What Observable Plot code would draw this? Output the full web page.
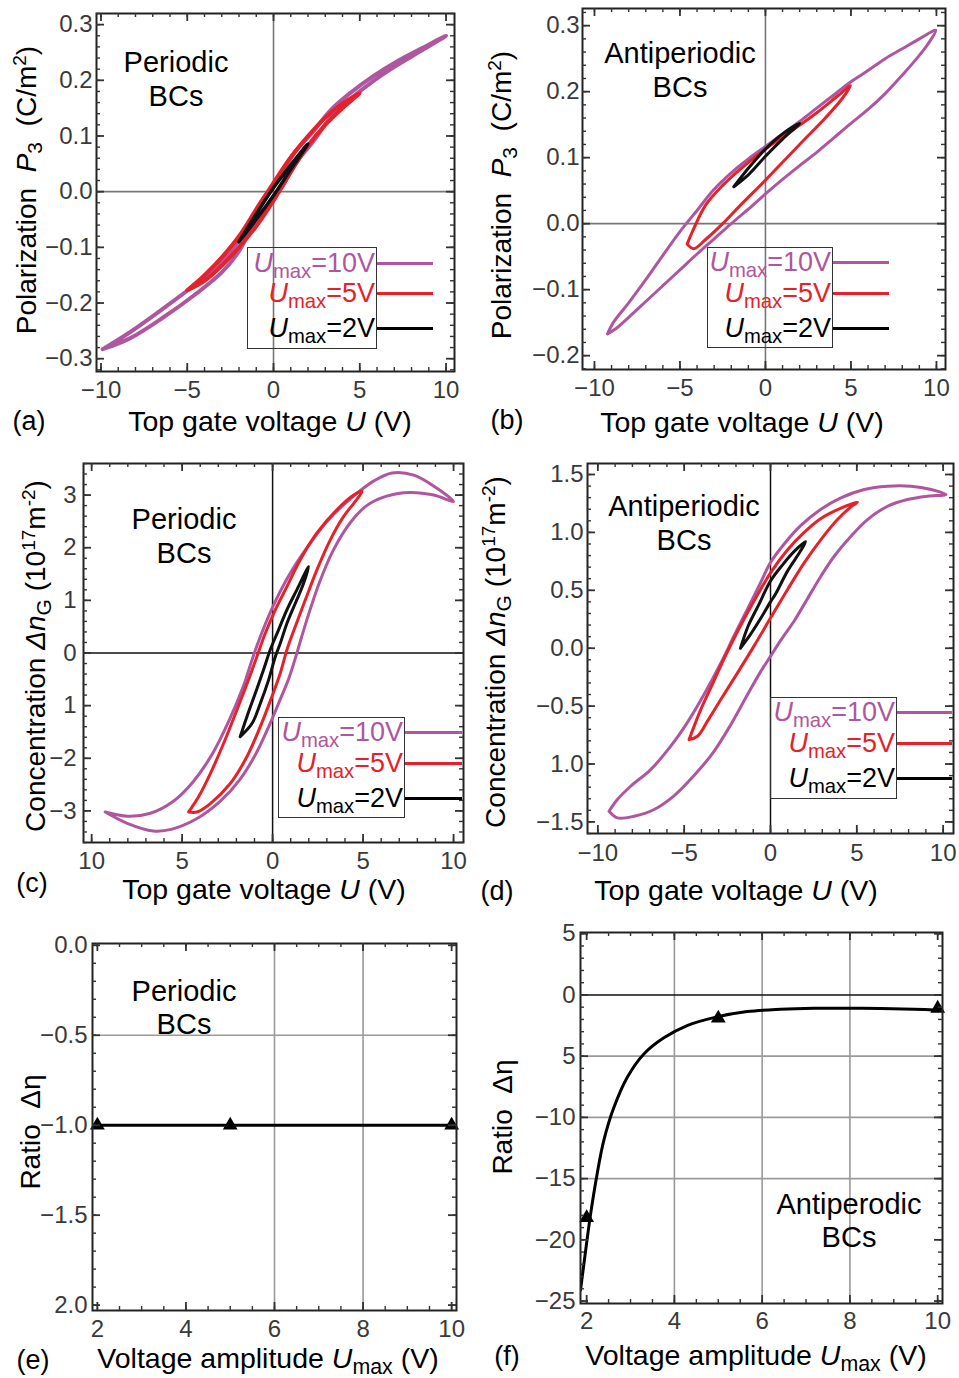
<!DOCTYPE html>
<html><head><meta charset="utf-8">
<script src="https://cdn.jsdelivr.net/npm/d3@7"></script>
<script src="https://cdn.jsdelivr.net/npm/@observablehq/plot@0.6"></script>
<style>
html,body{margin:0;padding:0;background:#fff;}
#fig{position:relative;width:959px;height:1378px;background:#fff;font-family:"Liberation Sans",Arial,sans-serif;overflow:hidden;}
#fig sub{font-size:0.75em;position:relative;top:0.28em;vertical-align:baseline;}
#fig sup{font-size:0.68em;position:relative;top:-0.5em;vertical-align:baseline;}
#fig i{font-style:italic;}
</style></head>
<body><div id="fig"></div>
<script>
// ---------- DATA ----------
const PURPLE = "#b0569e", RED = "#e62129", BLACK = "#111111";
const legendNames = ["10V", "5V", "2V"];

// (a) Periodic BCs, polarization P3 (C/m^2) vs U (V): closed loops [U, P3]
const aLoop10 = [[-9.9,-0.283],[-8.3,-0.252],[-6.4,-0.21],[-4.6,-0.168],[-3,-0.125],[-2,-0.088],[-1.2,-0.042],[-0.6,-0.012],[0,0.012],[0.6,0.04],[1.3,0.073],[2.3,0.108],[3.3,0.146],[4.4,0.176],[5.8,0.208],[7.1,0.233],[8.5,0.256],[10,0.28],
  [8.5,0.252],[7.1,0.226],[5.8,0.199],[4.4,0.165],[3.3,0.133],[2.3,0.09],[1.3,0.052],[0.6,0.014],[0,-0.012],[-0.6,-0.034],[-1.2,-0.06],[-2,-0.107],[-3,-0.145],[-4.6,-0.186],[-6.4,-0.226],[-8.3,-0.263],[-9.9,-0.283]];
const aLoop5 = [[-5,-0.177],[-4,-0.15],[-3,-0.118],[-2,-0.08],[-1,-0.032],[0,0.016],[1,0.062],[2,0.1],[3,0.133],[4,0.158],[5,0.177],
  [4,0.15],[3,0.12],[2,0.083],[1,0.035],[0,-0.016],[-1,-0.062],[-2,-0.1],[-3,-0.133],[-4,-0.16],[-5,-0.177]];
const aLoop2 = [[-2,-0.09],[-1,-0.04],[0,0.007],[1,0.048],[2,0.086],[1,0.04],[0,-0.007],[-1,-0.05],[-2,-0.09]];

// (b) Antiperiodic BCs, polarization
const bLoop10 = [[-9.24,-0.167],[-8.9,-0.15],[-8,-0.12],[-7,-0.085],[-6,-0.048],[-5,-0.012],[-4,0.02],[-3,0.052],[-2,0.077],[-1,0.098],[0,0.117],[1,0.136],[2,0.155],[3,0.175],[4,0.195],[5,0.215],[6,0.232],[7,0.25],[8,0.265],[9,0.28],[9.96,0.293],
  [9.5,0.272],[9,0.255],[8,0.225],[7,0.197],[6,0.173],[5,0.152],[4,0.13],[3,0.108],[2,0.088],[1,0.067],[0,0.045],[-1,0.022],[-2,0.0],[-3,-0.023],[-4,-0.046],[-5,-0.07],[-6,-0.094],[-7,-0.118],[-8,-0.142],[-8.8,-0.16],[-9.24,-0.167]];
const bLoop5 = [[-4.58,-0.031],[-4.2,-0.008],[-3.5,0.028],[-2.5,0.058],[-1.5,0.082],[0,0.113],[1.5,0.14],[3,0.168],[4.2,0.193],[4.97,0.209],
  [4.5,0.19],[3.5,0.16],[2,0.12],[0,0.066],[-1.5,0.027],[-2.5,0.0],[-3.5,-0.024],[-4.2,-0.038],[-4.58,-0.031]];
const bLoop2 = [[-1.85,0.056],[-1,0.084],[0,0.113],[1,0.136],[2,0.152],[1,0.128],[0,0.102],[-1,0.074],[-1.85,0.056]];

// (c) Periodic BCs, concentration Δn_G (10^17 m^-2)
const cLoop10 = [[-9.25,-3.02],[-8.0,-3.1],[-6.8,-3.05],[-5.5,-2.82],[-4.4,-2.45],[-3.3,-1.9],[-2.4,-1.28],[-1.6,-0.62],[-1.25,-0.25],[-0.85,0.15],[-0.4,0.55],[0.15,0.98],[0.95,1.5],[1.9,2.0],[3.0,2.5],[4.3,2.93],[5.6,3.27],[6.6,3.42],[7.8,3.38],[9.0,3.15],[10,2.88],
  [8.9,3.0],[7.6,3.05],[6.3,2.98],[5.2,2.8],[4.3,2.48],[3.35,1.95],[2.6,1.35],[2.05,0.8],[1.6,0.3],[1.3,-0.05],[0.9,-0.48],[0.4,-0.9],[-0.15,-1.35],[-0.9,-1.9],[-1.8,-2.4],[-2.9,-2.82],[-4.2,-3.15],[-5.6,-3.35],[-6.6,-3.38],[-8.0,-3.24],[-9.25,-3.02]];
const cLoop5 = [[-4.64,-3.02],[-4.09,-2.73],[-3.44,-2.29],[-2.71,-1.72],[-1.97,-1.08],[-1.33,-0.51],[-0.87,-0.07],[-0.41,0.37],[0.15,0.82],[0.79,1.26],[1.53,1.77],[2.45,2.28],[3.55,2.72],[4.48,3.0],[4.94,3.07],
  [4.57,2.88],[3.92,2.59],[3.19,2.15],[2.45,1.58],[1.81,1.01],[1.25,0.5],[0.79,0.06],[0.42,-0.39],[-0.04,-0.83],[-0.68,-1.4],[-1.42,-1.97],[-2.34,-2.48],[-3.44,-2.86],[-4.18,-3.02],[-4.64,-3.02]];
const cLoop2 = [[-1.79,-1.59],[-1.42,-1.21],[-0.96,-0.77],[-0.5,-0.32],[-0.13,0.06],[0.33,0.44],[0.79,0.82],[1.34,1.2],[1.99,1.64],
  [1.71,1.32],[1.25,0.94],[0.79,0.56],[0.42,0.18],[0.15,-0.07],[-0.22,-0.51],[-0.68,-0.96],[-1.14,-1.34],[-1.79,-1.59]];

// (d) Antiperiodic BCs, concentration
const dLoop10 = [[-9.35,-1.408],[-8.87,-1.307],[-8.1,-1.192],[-6.94,-1.048],[-5.78,-0.846],[-4.81,-0.64],[-3.85,-0.4],[-2.88,-0.13],[-2.1,0.11],[-1.33,0.34],[-0.56,0.57],[0,0.74],[0.79,0.9],[1.76,1.06],[2.92,1.2],[4.08,1.298],[5.43,1.37],[6.78,1.399],[8.14,1.399],[9.3,1.37],[10.16,1.327],
  [9.1,1.313],[7.94,1.284],[6.78,1.226],[5.62,1.111],[4.66,0.967],[3.69,0.794],[2.92,0.622],[2.15,0.43],[1.37,0.235],[0.6,0.07],[0,-0.07],[-0.56,-0.2],[-1.33,-0.4],[-2.3,-0.66],[-3.27,-0.89],[-4.43,-1.1],[-5.59,-1.275],[-6.74,-1.393],[-7.9,-1.451],[-8.87,-1.465],[-9.35,-1.408]];
const dLoop5 = [[-4.715,-0.789],[-4.46,-0.688],[-4.04,-0.53],[-3.36,-0.31],[-2.59,-0.06],[-1.82,0.17],[-0.95,0.41],[0,0.65],[0.99,0.85],[1.95,1.0],[2.92,1.12],[4.08,1.21],[5.04,1.261],
  [4.66,1.22],[3.88,1.111],[2.92,0.938],[1.95,0.737],[0.99,0.507],[0,0.26],[-0.95,0.02],[-1.91,-0.213],[-2.88,-0.443],[-3.65,-0.63],[-4.23,-0.76],[-4.715,-0.789]];
const dLoop2 = [[-1.74,0.0],[-1.3,0.19],[-0.7,0.37],[0,0.58],[0.7,0.72],[1.4,0.84],[2.03,0.92],
  [1.7,0.83],[1.0,0.67],[0.3,0.47],[0,0.4],[-0.6,0.25],[-1.2,0.11],[-1.74,0.0]];

// (e) Periodic BCs ratio
const eUmax = [2, 5, 10];
const eRatio = [-1, -1, -1];
// (f) Antiperiodic BCs ratio
const fUmax = [2, 5, 10];
const fRatio = [-18.2, -1.9, -1.1];
const fFitUmax  = [1.86, 1.98, 2.09, 2.24, 2.39, 2.62, 2.93, 3.31, 3.76, 4.29, 4.9, 5.66, 6.42, 7.18, 7.94, 8.7, 9.46, 10.06];
const fFitRatio = [-24.1, -20.8, -17.9, -14.6, -11.9, -9.2, -6.7, -4.8, -3.5, -2.5, -1.85, -1.36, -1.17, -1.09, -1.09, -1.11, -1.17, -1.25];

// tick values and labels
const uTicks = [-10, -5, 0, 5, 10];
const uLabels = ["−10", "−5", "0", "5", "10"];
const cULabels = ["10", "5", "0", "5", "10"];
const aPTicks = [-0.3, -0.2, -0.1, 0, 0.1, 0.2, 0.3];
const aPLabels = ["−0.3", "−0.2", "−0.1", "0.0", "0.1", "0.2", "0.3"];
const bPTicks = [-0.2, -0.1, 0, 0.1, 0.2, 0.3];
const bPLabels = ["−0.2", "−0.1", "0.0", "0.1", "0.2", "0.3"];
const cNTicks = [-3, -2, -1, 0, 1, 2, 3];
const cNLabels = ["−3", "−2", "1", "0", "1", "2", "3"];
const dNTicks = [-1.5, -1, -0.5, 0, 0.5, 1, 1.5];
const dNLabels = ["−1.5", "1.0", "−0.5", "0.0", "0.5", "1.0", "1.5"];
const umaxTicks = [2, 4, 6, 8, 10];
const umaxLabels = ["2", "4", "6", "8", "10"];
const eRTicks = [-2, -1.5, -1, -0.5, 0];
const eRLabels = ["2.0", "−1.5", "−1.0", "−0.5", "0.0"];
const fRTicks = [-25, -20, -15, -10, -5, 0, 5];
const fRLabels = ["−25", "−20", "−15", "−10", "5", "0", "5"];
const eGridX = [6, 8], eGridY = [-0.5];
const fGridX = [4, 6, 8], fGridY = [-15, -10, -5];

// ---------- DRAW ----------
const fig = document.getElementById("fig");
const FONT = "Liberation Sans, Arial, sans-serif";
const TICKFONT = 24;

function loop(data, color, w = 3) {
  return Plot.line(data, {x: d => d[0], y: d => d[1], stroke: color, strokeWidth: w, curve: "catmull-rom", clip: true});
}

function panel(cfg) {
  const [sx, sy, sw, sh] = cfg.svg;
  const [fl, ft, fr, fb] = cfg.frame;
  const fw = fr - fl, fh = fb - ft;
  const xLab = new Map(cfg.xTicks.map((t, i) => [t, cfg.xLabels[i]]));
  const yLab = new Map(cfg.yTicks.map((t, i) => [t, cfg.yLabels[i]]));
  const inX = v => v >= cfg.xDomain[0] - 1e-9 && v <= cfg.xDomain[1] + 1e-9;
  const inY = v => v >= Math.min(...cfg.yDomain) - 1e-9 && v <= Math.max(...cfg.yDomain) + 1e-9;
  const xMinor = d3.range(cfg.xMinor[0], cfg.xMinor[1] + 1e-9, cfg.xMinor[2]).map(v => +v.toFixed(4)).filter(inX);
  const yMinor = d3.range(cfg.yMinor[0], cfg.yMinor[1] + 1e-9, cfg.yMinor[2]).map(v => +v.toFixed(4)).filter(inY);
  const xMaj = cfg.xTicks.filter(inX), yMaj = cfg.yTicks.filter(inY);
  const tk = {stroke: "#333", strokeWidth: 1.4};
  const ticks = [
    Plot.ruleX(xMinor, {x: d => d, insetTop: fh - 4, ...tk}),
    Plot.ruleX(xMinor, {x: d => d, insetBottom: fh - 4, ...tk}),
    Plot.ruleY(yMinor, {y: d => d, insetRight: fw - 4, ...tk}),
    Plot.ruleY(yMinor, {y: d => d, insetLeft: fw - 4, ...tk}),
    Plot.ruleX(xMaj, {x: d => d, insetTop: fh - 8, ...tk, strokeWidth: 1.8}),
    Plot.ruleX(xMaj, {x: d => d, insetBottom: fh - 8, ...tk, strokeWidth: 1.8}),
    Plot.ruleY(yMaj, {y: d => d, insetRight: fw - 8, ...tk, strokeWidth: 1.8}),
    Plot.ruleY(yMaj, {y: d => d, insetLeft: fw - 8, ...tk, strokeWidth: 1.8})
  ];
  const svg = Plot.plot({
    width: sw, height: sh,
    marginLeft: fl - sx, marginTop: ft - sy, marginRight: sx + sw - fr, marginBottom: sy + sh - fb,
    x: {domain: cfg.xDomain}, y: {domain: cfg.yDomain},
    style: {fontFamily: FONT, fontSize: TICKFONT + "px", background: "transparent", overflow: "visible", color: "#333"},
    marks: [
      ...cfg.marks,
      Plot.frame({stroke: "#222", strokeWidth: 2}),
      ...ticks,
      Plot.axisX(cfg.xTicks, {tickSize: 0, tickPadding: cfg.xPad, tickFormat: d => xLab.get(d), fontSize: TICKFONT, fill: "#3a3a3a", label: null}),
      Plot.axisY(cfg.yTicks, {tickSize: 0, tickPadding: cfg.yPad, tickFormat: d => yLab.get(d), fontSize: TICKFONT, fill: "#3a3a3a", label: null})
    ]
  });
  svg.style.position = "absolute";
  svg.style.left = sx + "px";
  svg.style.top = sy + "px";
  fig.appendChild(svg);
}

function txt(html, x, y, o = {}) {
  const d = document.createElement("div");
  d.innerHTML = html;
  d.style.cssText = `position:absolute;left:${x}px;top:${y}px;white-space:nowrap;line-height:${o.lh || 1};` +
    `font-size:${o.size || 28}px;color:${o.color || "#000"};text-align:center;` +
    `transform:${o.tf || "translate(-50%,-50%)"};`;
  fig.appendChild(d);
}

function legend(box, rowsY, lineEnd) {
  const [x0, y0, x1, y1] = box;
  const b = document.createElement("div");
  b.style.cssText = `position:absolute;left:${x0}px;top:${y0}px;width:${x1 - x0}px;height:${y1 - y0}px;border:1.5px solid #333;box-sizing:border-box;`;
  fig.appendChild(b);
  const colors = [PURPLE, RED, "#000"];
  legendNames.forEach((n, i) => {
    txt(`<i>U</i><sub>max</sub>=${n}`, x1 - 2, rowsY[i], {size: 27, color: colors[i], tf: "translate(-100%,-50%)"});
    const l = document.createElement("div");
    l.style.cssText = `position:absolute;left:${x1}px;top:${rowsY[i] - 1.5}px;width:${lineEnd - x1}px;height:3.2px;background:${colors[i]};`;
    fig.appendChild(l);
  });
}

const zeroGray = {stroke: "#777", strokeWidth: 1.6};
const zeroBlack = {stroke: "#111", strokeWidth: 1.5};
const grid = {stroke: "#9a9a9a", strokeWidth: 1.6};

// (a)
panel({svg: [0, 0, 480, 440], frame: [96, 13, 454, 371], xDomain: [-10.26, 10.49], yDomain: [-0.323, 0.32],
  xTicks: uTicks, xLabels: uLabels, yTicks: aPTicks, yLabels: aPLabels, xMinor: [-10, 10, 1], yMinor: [-0.32, 0.32, 0.02], xPad: 9, yPad: 4,
  marks: [Plot.ruleX([0], zeroGray), Plot.ruleY([0], zeroGray), loop(aLoop10, PURPLE, 4), loop(aLoop5, RED, 4), loop(aLoop2, BLACK, 3.5)]});
// (b)
panel({svg: [480, 0, 479, 440], frame: [582, 8, 945, 369], xDomain: [-10.7, 10.53], yDomain: [-0.221, 0.326],
  xTicks: uTicks, xLabels: uLabels, yTicks: bPTicks, yLabels: bPLabels, xMinor: [-10, 10, 1], yMinor: [-0.22, 0.32, 0.02], xPad: 9, yPad: 3,
  marks: [Plot.ruleX([0], zeroGray), Plot.ruleY([0], zeroGray), loop(bLoop10, PURPLE), loop(bLoop5, RED), loop(bLoop2, BLACK)]});
// (c)
panel({svg: [0, 445, 480, 455], frame: [83, 463, 463, 842], xDomain: [-10.45, 10.55], yDomain: [-3.6, 3.6],
  xTicks: uTicks, xLabels: cULabels, yTicks: cNTicks, yLabels: cNLabels, xMinor: [-10, 10, 1], yMinor: [-3.6, 3.6, 0.2], xPad: 9.5, yPad: 7,
  marks: [Plot.ruleX([0], zeroBlack), Plot.ruleY([0], zeroBlack), loop(cLoop10, PURPLE), loop(cLoop5, RED), loop(cLoop2, BLACK)]});
// (d)
panel({svg: [480, 445, 479, 455], frame: [587, 463, 953, 833], xDomain: [-10.6, 10.6], yDomain: [-1.6, 1.595],
  xTicks: uTicks, xLabels: uLabels, yTicks: dNTicks, yLabels: dNLabels, xMinor: [-10, 10, 1], yMinor: [-1.6, 1.6, 0.1], xPad: 10.5, yPad: 4,
  marks: [Plot.ruleX([0], zeroBlack), loop(dLoop10, PURPLE), loop(dLoop5, RED), loop(dLoop2, BLACK)]});
// (e)
panel({svg: [0, 920, 480, 458], frame: [92, 943, 456, 1310], xDomain: [1.89, 10.11], yDomain: [-2.03, 0.01],
  xTicks: umaxTicks, xLabels: umaxLabels, yTicks: eRTicks, yLabels: eRLabels, xMinor: [2, 10, 0.5], yMinor: [-2, 0, 0.1], xPad: 9.5, yPad: 5,
  marks: [Plot.ruleX(eGridX, grid), Plot.ruleY(eGridY, grid),
    Plot.ruleY([d3.mean(eRatio)], {stroke: "#000", strokeWidth: 3}),
    Plot.dot(eUmax.map((u, i) => ({u, r: eRatio[i]})), {x: "u", y: "r", symbol: "triangle", fill: "#000", r: 5.5})]});
// (f)
panel({svg: [480, 920, 479, 458], frame: [580, 932, 942, 1303], xDomain: [1.86, 10.11], yDomain: [-25.2, 5.1],
  xTicks: umaxTicks, xLabels: umaxLabels, yTicks: fRTicks, yLabels: fRLabels, xMinor: [2, 10, 0.5], yMinor: [-25, 5, 1], xPad: 8.5, yPad: 5,
  marks: [Plot.ruleX(fGridX, grid), Plot.ruleY(fGridY, grid), Plot.ruleY([0], zeroBlack),
    Plot.line(fFitUmax.map((u, i) => ({u, r: fFitRatio[i]})), {x: "u", y: "r", stroke: "#000", strokeWidth: 3, curve: "catmull-rom", clip: true}),
    Plot.dot(fUmax.map((u, i) => ({u, r: fRatio[i]})), {x: "u", y: "r", symbol: "triangle", fill: "#000", r: 5.5})]});

// ---------- TEXT ----------
const rot = "translate(-50%,-50%) rotate(-90deg)";
const polTitle = "Polarization&nbsp;&nbsp;<i>P</i><sub>3</sub>&nbsp;&nbsp;(C/m<sup>2</sup>)";
const concTitle = "Concentration <i>Δn</i><sub>G</sub> (10<sup>17</sup>m<sup>-2</sup>)";
const ratioTitle = "Ratio&nbsp;&nbsp;Δη";
const uTitle = "Top gate voltage <i>U</i> (V)";
const umaxTitle = "Voltage amplitude <i>U</i><sub>max</sub> (V)";

txt(polTitle, 27, 190, {tf: rot});
txt(polTitle, 502, 195, {tf: rot});
txt(concTitle, 36, 656, {tf: rot});
txt(concTitle, 496, 652, {tf: rot});
txt(ratioTitle, 31, 1132, {tf: rot});
txt(ratioTitle, 503, 1117, {tf: rot});

txt(uTitle, 270, 421, {size: 28.5});
txt(uTitle, 742, 422, {size: 28.5});
txt(uTitle, 264, 889, {size: 28.5});
txt(uTitle, 736, 890, {size: 28.5});
txt(umaxTitle, 268, 1358, {size: 28.5});
txt(umaxTitle, 756, 1355, {size: 28.5});

txt("(a)", 29, 421, {size: 27});
txt("(b)", 507, 420, {size: 27});
txt("(c)", 32, 883, {size: 27});
txt("(d)", 497, 891, {size: 27});
txt("(e)", 33, 1360, {size: 27});
txt("(f)", 507, 1356, {size: 27});

txt("Periodic<br>BCs", 176, 79, {size: 29, lh: "34px"});
txt("Antiperiodic<br>BCs", 680, 70, {size: 29, lh: "34px"});
txt("Periodic<br>BCs", 184, 536, {size: 29, lh: "34px"});
txt("Antiperiodic<br>BCs", 684, 523, {size: 29, lh: "34px"});
txt("Periodic<br>BCs", 184, 1008, {size: 29, lh: "33px"});
txt("Antiperodic<br>BCs", 849, 1221, {size: 29, lh: "33px"});

legend([247, 247, 377, 349], [263, 293, 328], 433);
legend([707, 247, 833, 348], [262, 293, 328], 889);
legend([278, 717, 405, 818], [732, 763, 798], 462);
legend([770, 697, 897, 799], [712, 743, 778], 952);
</script>
</body></html>
